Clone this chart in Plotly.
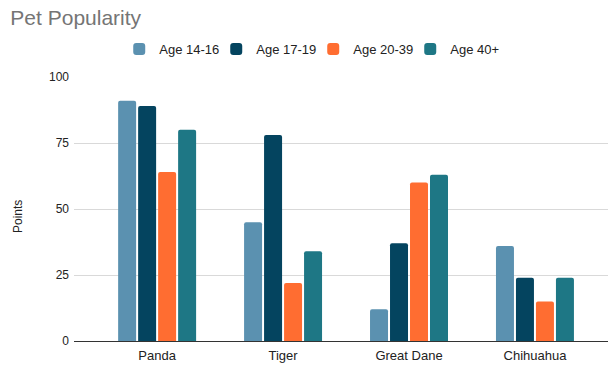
import plotly.graph_objects as go

categories = ["Panda", "Tiger", "Great Dane", "Chihuahua"]
series_names = ["Age 14-16", "Age 17-19", "Age 20-39", "Age 40+"]
age_14_16 = [91, 45, 12, 36]
age_17_19 = [89, 78, 37, 24]
age_20_39 = [64, 22, 60, 15]
age_40_plus = [80, 34, 63, 24]
y_ticks = [0, 25, 50, 75, 100]

colors = ["#5b91b0", "#04445f", "#ff6d31", "#1e7785"]
values = [age_14_16, age_17_19, age_20_39, age_40_plus]

fig = go.Figure()
for name, vals, c in zip(series_names, values, colors):
    fig.add_trace(go.Bar(x=categories, y=vals, name=name, marker=dict(color=c, line=dict(width=0))))

font_family = "Liberation Sans, Arial, sans-serif"
fig.update_layout(
    width=609, height=367,
    margin=dict(l=74, r=1, t=77, b=26),
    paper_bgcolor="white", plot_bgcolor="white",
    barmode="group", bargap=0.365, bargroupgap=0.1, barcornerradius=2,
    font=dict(family=font_family, size=12, color="#222222"),
    title=dict(text="Pet Popularity", x=0.017, xanchor="left", y=0.952, yanchor="middle",
               font=dict(size=21, color="#757575", family=font_family)),
    legend=dict(orientation="h", x=0.448, xanchor="center", y=1.106, yanchor="middle",
                font=dict(size=13, color="#222222"), itemwidth=30, traceorder="normal",
                entrywidth=52, entrywidthmode="pixels"),
    showlegend=True,
    annotations=[dict(text="Points", xref="paper", yref="paper", x=-0.1049, y=0.4735,
                      xanchor="center", yanchor="middle", textangle=-90, showarrow=False,
                      font=dict(size=12, color="#222222"))],
)
fig.update_xaxes(type="category", range=[-0.66, 3.58], showgrid=False, showline=False,
                 ticks="", ticklabelstandoff=5, tickfont=dict(size=13, color="#222222"))
fig.update_yaxes(range=[0, 100], tickvals=y_ticks, showgrid=True, gridcolor="#d9d9d9", gridwidth=1,
                 zeroline=True, zerolinecolor="#333333", zerolinewidth=1, showline=False,
                 ticks="", ticklabelstandoff=4, tickfont=dict(size=12, color="#222222"))
fig.write_html("out.html")
